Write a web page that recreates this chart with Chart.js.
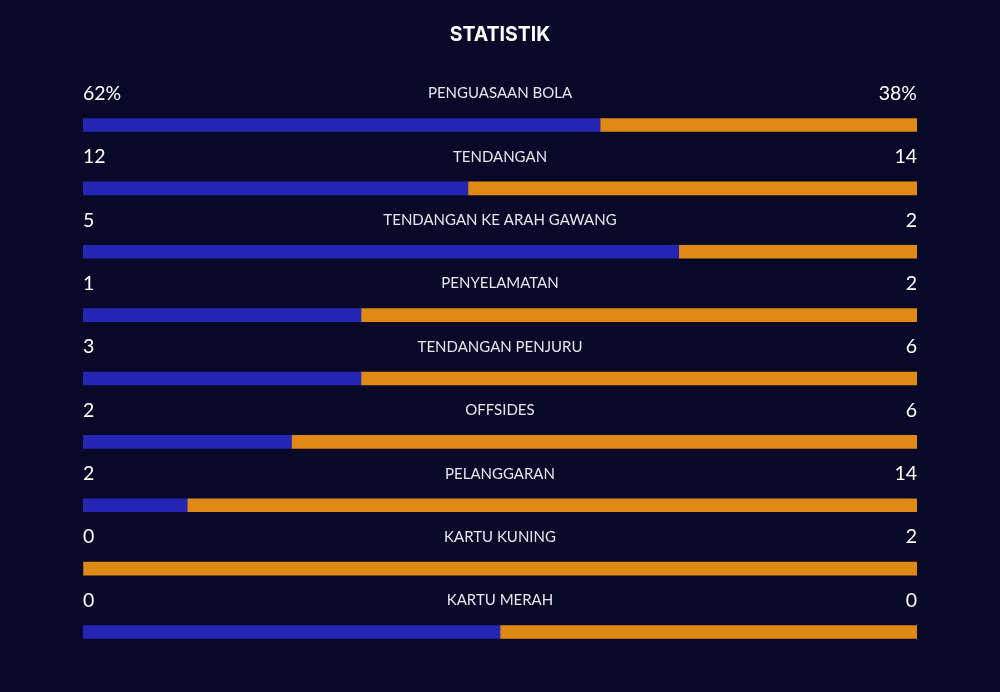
<!DOCTYPE html>
<html>
<head>
<meta charset="utf-8">
<script src="https://cdn.jsdelivr.net/npm/chart.js@4/dist/chart.umd.min.js"></script>
<style>
html,body{margin:0;padding:0;background:#080828;}
#wrap{width:1000px;height:692px;position:relative;}
</style>
</head>
<body>
<div id="wrap"><canvas id="c" width="1000" height="692"></canvas></div>
<script>
const title = 'STATISTIK';
const categories = ['PENGUASAAN BOLA','TENDANGAN','TENDANGAN KE ARAH GAWANG','PENYELAMATAN','TENDANGAN PENJURU','OFFSIDES','PELANGGARAN','KARTU KUNING','KARTU MERAH'];
const homeValues = [62,12,5,1,3,2,2,0,0];
const awayValues = [38,14,2,2,6,6,14,2,0];
const valueSuffix = ['%','','','','','','','',''];

const homeShare = homeValues.map((h,i)=>{const t=h+awayValues[i];return t===0?50:h/t*100;});
const awayShare = homeShare.map(s=>100-s);

const textPlugin = {
  id:'rowText',
  afterDraw(chart){
    const ctx = chart.ctx, area = chart.chartArea, ys = chart.scales.y;
    ctx.save();
    ctx.fillStyle = '#ffffff';
    ctx.textAlign = 'center';
    ctx.textBaseline = 'middle';
    ctx.font = '700 19.5px Inter, "Open Sans", sans-serif';
    ctx.fillText(title, 500, 35.5);
    categories.forEach((cat,i)=>{
      const y = ys.getPixelForValue(i) - 31.5;
      ctx.fillStyle = '#e6e6ee';
      ctx.font = '400 15px Lato, sans-serif';
      ctx.textAlign = 'center';
      ctx.fillText(cat, (area.left+area.right)/2, y);
      ctx.fillStyle = '#ffffff';
      ctx.font = '400 19.5px Lato, sans-serif';
      ctx.textAlign = 'left';
      ctx.fillText(homeValues[i]+valueSuffix[i], area.left, y);
      ctx.textAlign = 'right';
      ctx.fillText(awayValues[i]+valueSuffix[i], area.right, y);
    });
    ctx.restore();
  }
};

new Chart(document.getElementById('c'),{
  type:'bar',
  data:{
    labels:categories,
    datasets:[
      {label:'Home',data:homeShare,backgroundColor:'#2626b4',barThickness:13,borderSkipped:false},
      {label:'Away',data:awayShare,backgroundColor:'#e08914',barThickness:13,borderSkipped:false}
    ]
  },
  options:{
    indexAxis:'y',
    responsive:false,
    animation:false,
    layout:{padding:{left:83,right:83,top:93.3,bottom:28.3}},
    scales:{
      x:{stacked:true,min:0,max:100,display:false},
      y:{stacked:true,display:false}
    },
    plugins:{legend:{display:false},tooltip:{enabled:false},title:{display:false}}
  },
  plugins:[textPlugin]
});
</script>
</body>
</html>
